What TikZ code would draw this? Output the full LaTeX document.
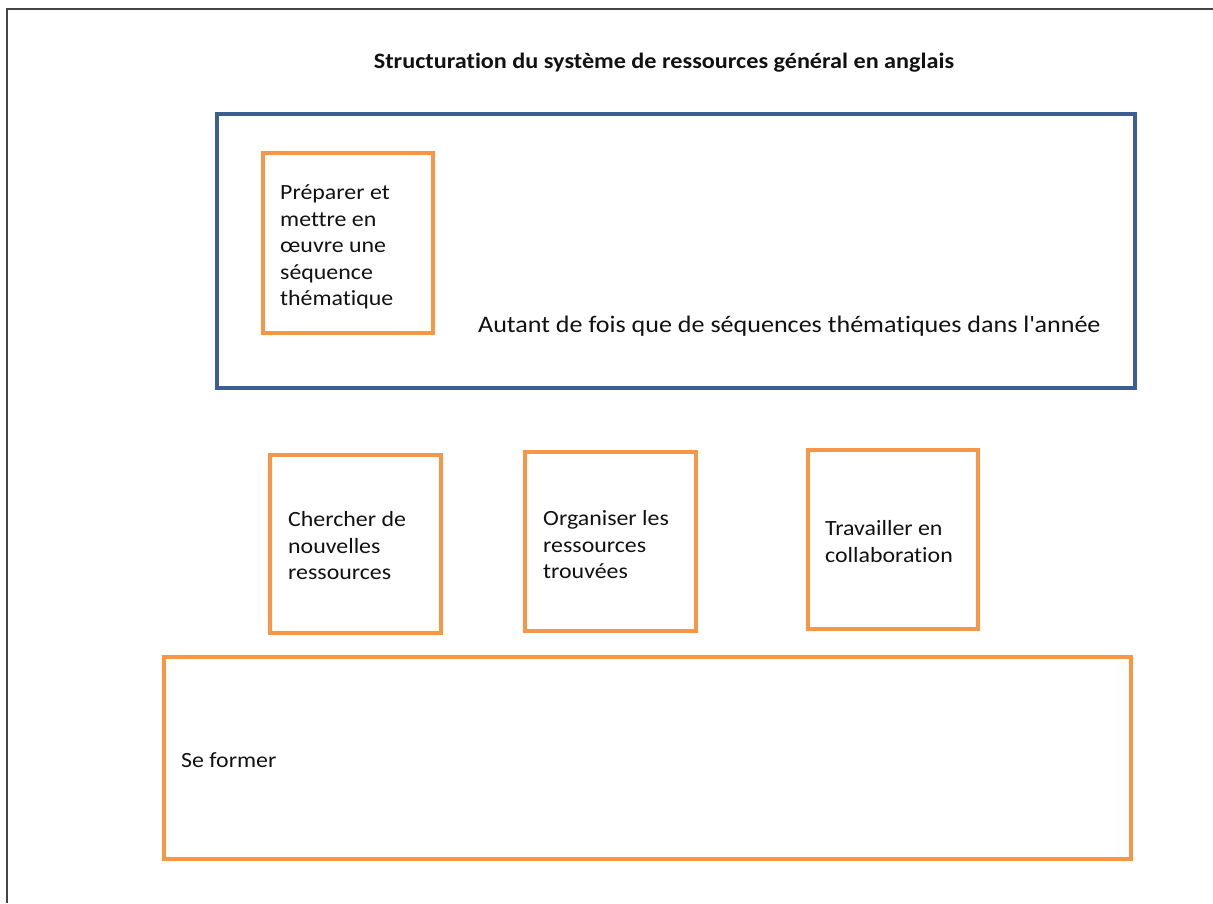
\documentclass[tikz,border=0pt]{standalone}
\usepackage{fontspec}
\setmainfont[FakeStretch=1.1,Ligatures=NoCommon]{Carlito}
\definecolor{orng}{HTML}{F79646}
\definecolor{blu}{HTML}{3B5F8F}
\definecolor{frm}{HTML}{444444}
\definecolor{txt}{HTML}{111111}
\newcommand{\mylines}[1]{\vtop{\baselineskip=26.5pt #1}}
\begin{document}
\begin{tikzpicture}[x=1pt,y=1pt,
  obox/.style={draw=orng,line width=3.5pt},
  bbox/.style={draw=blu,line width=3.5pt},
  lbl/.style={anchor=base west,inner sep=0pt,text=txt,font=\fontsize{21.7}{26.5}\selectfont}]
\useasboundingbox (0,0) rectangle (1213,903);
\draw[frm,line width=2pt] (7,0) -- (7,894) -- (1213,894);
\node[anchor=base,inner sep=0pt,text=txt,font=\fontsize{22}{26}\selectfont\bfseries] (title) at (664,834) {Structuration du système de ressources général en anglais};
% blue box
\draw[bbox] (217,789) rectangle (1135,515);
\draw[obox] (263,750) rectangle (433,570);
\node[lbl] (t1) at (280,703) {\mylines{\hbox{Préparer et}\hbox{mettre en}\hbox{œuvre une}\hbox{séquence}\hbox{thématique}}};
\node[lbl,font=\fontsize{23.7}{28}\selectfont] (t0) at (478,570) {Autant de fois que de séquences thématiques dans l\textquotesingle année};
% middle boxes
\draw[obox] (270,448) rectangle (441,270);
\node[lbl] (t2) at (288,376) {\mylines{\hbox{Chercher de}\hbox{nouvelles}\hbox{ressources}}};
\draw[obox] (525,451) rectangle (696,272);
\node[lbl] (t3) at (543,377) {\mylines{\hbox{Organiser les}\hbox{ressources}\hbox{trouvées}}};
\draw[obox] (808,453) rectangle (978,274);
\node[lbl] (t4) at (825,367) {\mylines{\hbox{Travailler en}\hbox{collaboration}}};
% bottom box
\draw[obox] (164,246) rectangle (1131,44);
\node[lbl] (t5) at (181,136) {Se former};
\end{tikzpicture}
\end{document}
